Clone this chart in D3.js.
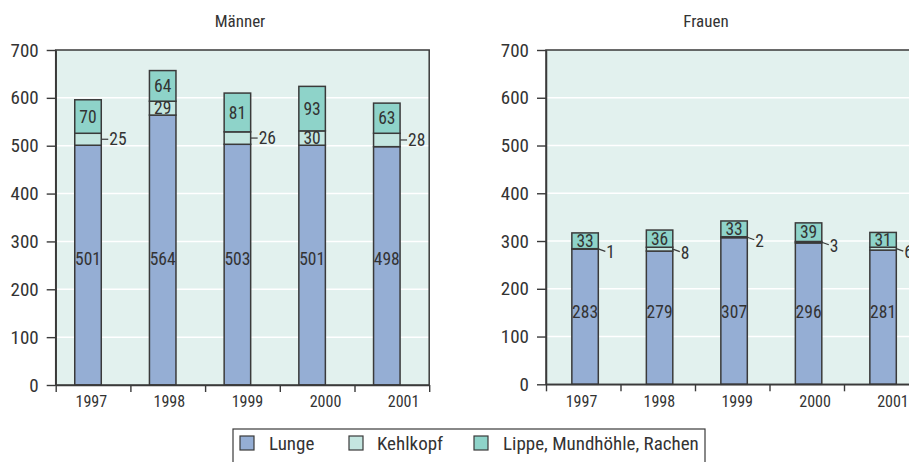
<!DOCTYPE html>
<html>
<head>
<meta charset="utf-8">
<script src="https://cdn.jsdelivr.net/npm/d3@7"></script>
<style>
  html, body { margin: 0; padding: 0; background: #fff; }
  svg { display: block; }
</style>
</head>
<body>
<svg id="chart" width="909" height="462"></svg>
<script>
// Jahre und Achsenteilung
const years = ["1997", "1998", "1999", "2000", "2001"];
const yTicks = [0, 100, 200, 300, 400, 500, 600, 700];
const seriesNames = ["Lunge", "Kehlkopf", "Lippe, Mundhöhle, Rachen"];

// Männer
const maennerLunge = [501, 564, 503, 501, 498];
const maennerKehlkopf = [25, 29, 26, 30, 28];
const maennerLippe = [70, 64, 81, 93, 63];
const maennerKehlkopfInnen = [false, true, false, true, false];

// Frauen
const frauenLunge = [283, 279, 307, 296, 281];
const frauenKehlkopf = [1, 8, 2, 3, 6];
const frauenLippe = [33, 36, 33, 39, 31];
const frauenKehlkopfInnen = [false, false, false, false, false];

const FONT = '"Liberation Sans Narrow", "Arial Narrow", "Roboto Condensed", "DejaVu Sans Condensed", sans-serif';
const colors = ["#95aed4", "#c4e6e0", "#8ed3c9"];
const TEXT = "#333";
const LINE = "#3a3a3a";

const svg = d3.select("#chart");

function panel(opts) {
  const { title, titleX, x0, bw, yTop, yBottom, lunge, kehlkopf, lippe, innen, barOffset, leaderDy, labelX } = opts;
  const rows = years.map((yr, i) => ({ year: yr, Lunge: lunge[i], Kehlkopf: kehlkopf[i], Lippe: lippe[i], innen: innen[i] }));
  const keys = ["Lunge", "Kehlkopf", "Lippe"];
  const stacked = d3.stack().keys(keys)(rows);

  const x = d3.scaleBand().domain(years).range([x0, x0 + bw * years.length]).paddingInner(0).paddingOuter(0);
  const y = d3.scaleLinear().domain([0, 700]).range([yBottom, yTop]);
  const x1 = x0 + bw * years.length;
  const barW = bw * 0.355;
  const barX = d => x(d.data.year) + bw * barOffset;

  const g = svg.append("g");

  // Hintergrund und Gitter
  g.append("rect").attr("x", x0).attr("y", yTop).attr("width", x1 - x0).attr("height", yBottom - yTop)
    .attr("fill", "#e2f1ee");
  g.append("g").selectAll("line").data(yTicks.filter(t => t > 0 && t < 700)).join("line")
    .attr("x1", x0).attr("x2", x1).attr("y1", d => y(d)).attr("y2", d => y(d))
    .attr("stroke", "#fff").attr("stroke-width", 1.5);

  // Titel
  g.append("text").attr("x", titleX).attr("y", 27).attr("text-anchor", "middle")
    .attr("font-family", FONT).attr("font-size", 17).attr("fill", TEXT).text(title);

  // Balken
  g.append("g").selectAll("g").data(stacked).join("g")
    .attr("fill", (d, i) => colors[i])
    .selectAll("rect").data(d => d).join("rect")
    .attr("x", barX).attr("width", barW)
    .attr("y", d => y(d[1])).attr("height", d => y(d[0]) - y(d[1]))
    .attr("stroke", LINE).attr("stroke-width", 1.5);

  const lab = g.append("g").attr("font-family", FONT).attr("font-size", 17.5).attr("fill", TEXT);

  // Lunge: Beschriftung auf gemeinsamer Höhe
  const lungeY = y(d3.mean(stacked[0], d => (d[0] + d[1]) / 2)) - 3;
  lab.selectAll("text.lunge").data(stacked[0]).join("text").attr("class", "lunge")
    .attr("x", d => barX(d) + barW / 2).attr("y", lungeY).attr("dy", "0.35em")
    .attr("text-anchor", "middle").text(d => d.data.Lunge);

  // Kehlkopf: innen oder mit Hinweislinie
  const keh = stacked[1];
  lab.selectAll("text.keh-in").data(keh.filter(d => d.data.innen)).join("text").attr("class", "keh-in")
    .attr("x", d => barX(d) + barW / 2).attr("y", d => y((d[0] + d[1]) / 2)).attr("dy", "0.35em")
    .attr("text-anchor", "middle").text(d => d.data.Kehlkopf);
  const out = keh.filter(d => !d.data.innen);
  g.append("g").selectAll("line").data(out).join("line")
    .attr("x1", d => barX(d) + barW).attr("x2", d => barX(d) + barW + 7)
    .attr("y1", d => y((d[0] + d[1]) / 2)).attr("y2", d => y((d[0] + d[1]) / 2) + leaderDy)
    .attr("stroke", LINE).attr("stroke-width", 1.2);
  lab.selectAll("text.keh-out").data(out).join("text").attr("class", "keh-out")
    .attr("x", d => barX(d) + barW + 8).attr("y", d => y((d[0] + d[1]) / 2) + leaderDy * 1.3).attr("dy", "0.35em")
    .attr("text-anchor", "start").text(d => d.data.Kehlkopf);

  // Lippe, Mundhöhle, Rachen
  lab.selectAll("text.lippe").data(stacked[2]).join("text").attr("class", "lippe")
    .attr("x", d => barX(d) + barW / 2).attr("y", d => y((d[0] + d[1]) / 2)).attr("dy", "0.35em")
    .attr("text-anchor", "middle").text(d => d.data.Lippe);

  // Rahmen
  g.append("rect").attr("x", x0).attr("y", yTop).attr("width", x1 - x0).attr("height", yBottom - yTop)
    .attr("fill", "none").attr("stroke", LINE).attr("stroke-width", 1.5);

  // y-Achse
  const ya = g.append("g").attr("transform", `translate(${x0},0)`)
    .call(d3.axisLeft(y).tickValues(yTicks).tickSize(9).tickPadding(8).tickSizeOuter(0));
  ya.select(".domain").attr("stroke", LINE).attr("stroke-width", 1.5);
  ya.selectAll(".tick line").attr("stroke", LINE).attr("stroke-width", 1.4);
  ya.selectAll(".tick text").attr("font-family", FONT).attr("font-size", 19).attr("fill", TEXT);

  // x-Achse: Teilstriche an den Kategoriegrenzen
  const xb = d3.scaleLinear().domain([0, years.length]).range([x0, x1]);
  const xa = g.append("g").attr("transform", `translate(0,${yBottom})`)
    .call(d3.axisBottom(xb).tickValues(d3.range(years.length + 1)).tickSize(7).tickFormat("").tickSizeOuter(0));
  xa.select(".domain").attr("stroke", LINE).attr("stroke-width", 1.5);
  xa.selectAll(".tick line").attr("stroke", LINE).attr("stroke-width", 1.4);

  // Jahresbeschriftung
  const xl = d3.scalePoint().domain(years).range([x0 + bw * labelX[0], x0 + bw * labelX[1]]);
  const xla = g.append("g").attr("transform", `translate(0,${yBottom})`)
    .call(d3.axisBottom(xl).tickSize(0).tickPadding(11));
  xla.select(".domain").remove();
  xla.selectAll(".tick text").attr("font-family", FONT).attr("font-size", 16).attr("fill", TEXT);
}

panel({
  title: "Männer", titleX: 240, x0: 55.7, bw: 74.7, yTop: 50, yBottom: 385,
  lunge: maennerLunge, kehlkopf: maennerKehlkopf, lippe: maennerLippe, innen: maennerKehlkopfInnen,
  barOffset: 0.255, leaderDy: 0, labelX: [0.47, 4.65]
});
panel({
  title: "Frauen", titleX: 706, x0: 546, bw: 74.5, yTop: 50, yBottom: 384.3,
  lunge: frauenLunge, kehlkopf: frauenKehlkopf, lippe: frauenLippe, innen: frauenKehlkopfInnen,
  barOffset: 0.347, leaderDy: 2.5, labelX: [0.47, 4.65]
});

// Legende
const legend = svg.append("g");
legend.append("rect").attr("x", 233).attr("y", 429).attr("width", 472).attr("height", 60)
  .attr("fill", "#fff").attr("stroke", LINE).attr("stroke-width", 1.2);
const legendX = [240, 349, 474];
const legendTextX = [269, 377, 503];
const items = legend.selectAll("g.item").data(seriesNames).join("g").attr("class", "item");
items.append("rect").attr("x", (d, i) => legendX[i]).attr("y", 436).attr("width", 14).attr("height", 14)
  .attr("fill", (d, i) => colors[i]).attr("stroke", LINE).attr("stroke-width", 1.2);
items.append("text").attr("x", (d, i) => legendTextX[i]).attr("y", 443).attr("dy", "0.35em")
  .attr("font-family", FONT).attr("font-size", 19).attr("fill", TEXT).text(d => d);
</script>
</body>
</html>
